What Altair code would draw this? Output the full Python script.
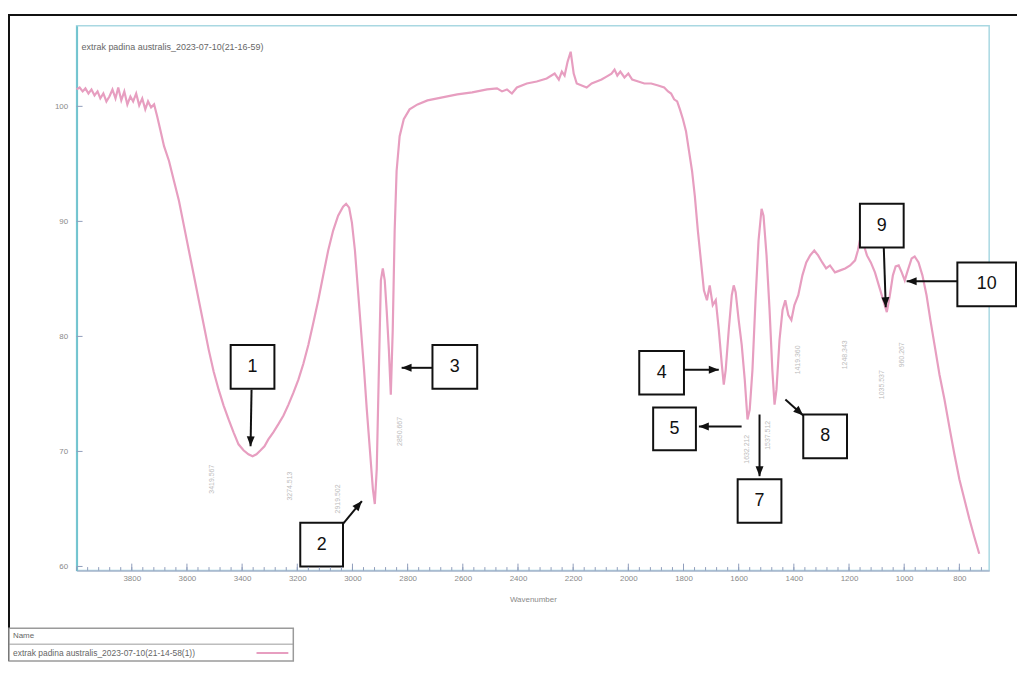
import altair as alt
import pandas as pd

# ---------------- spectrum ----------------
wavenumber = [4000, 3989, 3978, 3968, 3957, 3946, 3935, 3924, 3914, 3903, 3892, 3881, 3870, 3859, 3849,
              3838, 3827, 3816, 3805, 3795, 3784, 3773, 3762, 3751, 3741, 3730, 3719, 3708, 3697, 3683,
              3665, 3647, 3629, 3611, 3593, 3575, 3557, 3539, 3521, 3503, 3485, 3467, 3449, 3431, 3413,
              3395, 3377, 3362, 3348, 3333, 3319, 3305, 3287, 3269, 3250, 3232, 3214, 3196, 3178, 3160,
              3142, 3124, 3106, 3088, 3070, 3052, 3034, 3023, 3012, 3002, 2991, 2980, 2969, 2958, 2948,
              2937, 2926, 2919, 2912, 2905, 2897, 2890, 2883, 2876, 2868, 2861, 2854, 2847, 2840, 2829,
              2814, 2793, 2764, 2728, 2674, 2620, 2566, 2512, 2476, 2458, 2440, 2422, 2404, 2368, 2332,
              2296, 2267, 2252, 2241, 2231, 2220, 2209, 2198, 2187, 2169, 2151, 2133, 2115, 2097, 2079,
              2061, 2050, 2040, 2029, 2014, 2000, 1986, 1964, 1942, 1917, 1892, 1870, 1856, 1845, 1834,
              1823, 1813, 1802, 1791, 1780, 1769, 1759, 1748, 1737, 1726, 1715, 1705, 1694, 1683, 1672,
              1661, 1654, 1647, 1636, 1625, 1618, 1611, 1600, 1589, 1578, 1568, 1560, 1550, 1539, 1528,
              1517, 1510, 1499, 1488, 1478, 1470, 1463, 1452, 1441, 1431, 1420, 1409, 1398, 1384, 1369,
              1355, 1341, 1326, 1312, 1297, 1283, 1269, 1251, 1232, 1214, 1196, 1178, 1168, 1157, 1146,
              1135, 1121, 1106, 1092, 1078, 1063, 1052, 1041, 1031, 1020, 1009, 998, 987, 973, 962,
              948, 934, 919, 905, 890, 872, 854, 836, 818, 800, 782, 764, 746, 728]
transmittance = [101.47, 101.64, 101.30, 101.56, 101.12, 101.47, 100.95, 101.30, 100.69, 101.12, 100.43, 100.86,
                 101.47, 100.69, 101.64, 100.52, 101.30, 100.17, 100.86, 100.43, 101.12, 100.09, 100.69, 99.74,
                 100.43, 99.91, 100.17, 99.14, 98.01, 96.54, 95.25, 93.52, 91.79, 89.63, 87.47, 85.31, 83.15,
                 80.99, 78.83, 76.93, 75.37, 73.99, 72.78, 71.66, 70.62, 70.10, 69.75, 69.58, 69.75, 70.10,
                 70.45, 71.05, 71.66, 72.35, 73.12, 74.07, 75.11, 76.24, 77.62, 79.26, 81.16, 83.15, 85.31,
                 87.47, 89.20, 90.49, 91.27, 91.53, 91.19, 89.89, 87.47, 84.01, 80.56, 77.10, 73.64, 70.19,
                 66.73, 65.43, 68.46, 76.24, 84.88, 85.91, 84.88, 82.29, 78.83, 74.94, 80.56, 89.20, 94.38,
                 97.41, 98.88, 99.74, 100.17, 100.52, 100.78, 101.04, 101.21, 101.47, 101.56, 101.30, 101.47,
                 101.12, 101.64, 101.99, 102.16, 102.42, 102.85, 102.33, 103.03, 102.68, 103.89, 104.75,
                 102.85, 101.99, 101.82, 101.64, 101.99, 102.16, 102.33, 102.59, 102.85, 103.20, 102.68,
                 103.03, 102.51, 102.85, 102.33, 102.16, 101.99, 101.99, 101.82, 101.64, 101.30, 101.12,
                 100.61, 100.43, 99.74, 98.88, 97.84, 96.11, 94.38, 92.22, 89.20, 86.61, 84.01, 83.15, 84.44,
                 82.72, 83.15, 80.56, 77.53, 75.80, 77.10, 80.56, 83.58, 84.44, 83.84, 81.42, 79.26, 76.24,
                 72.78, 73.64, 77.10, 83.15, 88.33, 91.10, 90.49, 87.04, 82.29, 77.10, 74.07, 75.37, 79.69,
                 82.29, 83.15, 81.85, 81.42, 82.72, 83.58, 85.31, 86.43, 87.04, 87.47, 87.04, 86.43, 85.91,
                 86.17, 85.57, 85.74, 85.91, 86.17, 86.61, 87.47, 88.77, 87.90, 87.04, 86.43, 85.57, 84.44,
                 83.32, 82.11, 83.58, 85.31, 86.09, 86.17, 85.57, 84.88, 85.74, 86.78, 86.95, 86.43, 85.31,
                 83.58, 81.42, 79.26, 76.67, 74.51, 72.09, 69.75, 67.59, 65.87, 64.14, 62.58, 61.11]

# ---------------- axes ----------------
X_MIN, X_MAX = 692, 4000
Y_MIN, Y_MAX = 59.64, 107
x_tick_values = [3800, 3600, 3400, 3200, 3000, 2800, 2600, 2400, 2200, 2000, 1800, 1600, 1400, 1200, 1000, 800]
y_tick_values = [60, 70, 80, 90, 100]
minor_ticks = list(range(4000, 700, -40))

# ---------------- numbered boxes ----------------
box_labels = ["1", "2", "3", "4", "5", "7", "8", "9", "10"]
box_wn_left = [3441.5, 3189.2, 2710.0, 1960.4, 1910.0, 1603.7, 1365.9, 1160.5, 807.3]
box_wn_right = [3282.9, 3034.3, 2547.8, 1798.3, 1755.0, 1445.1, 1207.3, 1001.9, 594.7]
box_t_top = [79.26, 63.79, 79.26, 78.74, 73.82, 67.59, 73.21, 91.53, 86.43]
box_t_bottom = [75.46, 59.99, 75.46, 74.94, 70.10, 63.79, 69.41, 87.73, 82.63]

# ---------------- arrows ----------------
arrow_wn_from = [3365.8, 3034.3, 2710.0, 1798.3, 1589.3, 1524.4, 1430.7, 1074.0, 807.3]
arrow_t_from = [75.37, 63.71, 77.27, 77.10, 72.17, 73.21, 74.51, 87.73, 84.79]
arrow_wn_to = [3369.4, 2965.8, 2821.7, 1672.2, 1744.2, 1524.4, 1365.9, 1066.8, 991.1]
arrow_t_to = [70.45, 65.69, 77.27, 77.10, 72.17, 67.85, 73.13, 82.54, 84.79]
arrow_angle = [181, 40, 270, 90, 270, 180, 132, 178, 270]

# ---------------- faint peak labels ----------------
peak_label_text = ["3419.567", "3274.513", "2919.502", "2850.667", "1632.212", "1537.512",
                   "1419.360", "1248.343", "1035.537", "960.267"]
peak_label_wn = [3510, 3225, 3052, 2829, 1571, 1495, 1384, 1214, 1081, 1009]
peak_label_t = [67.59, 66.99, 65.87, 71.74, 70.19, 71.40, 77.96, 78.40, 75.80, 78.40]

title_text = "extrak padina australis_2023-07-10(21-16-59)"
legend_header = "Name"
legend_entry = "extrak padina australis_2023-07-10(21-14-58(1))"

PINK = "#e79ec0"
GREY = "#8a8a8a"
TICK = "#8f9dbb"
FONT = "Liberation Sans"
XT = "Wavenumber"

W, H = 918, 548
PX_PER_WN = W / (X_MAX - X_MIN)
PX_PER_T = H / (Y_MAX - Y_MIN)

spec = pd.DataFrame({"wn": wavenumber, "T": transmittance})
boxes = pd.DataFrame({"label": box_labels, "x1": box_wn_left, "x2": box_wn_right,
                      "y1": box_t_top, "y2": box_t_bottom})
boxes["xc"] = (boxes.x1 + boxes.x2) / 2
boxes["yc"] = (boxes.y1 + boxes.y2) / 2
arrows = pd.DataFrame({"x1": arrow_wn_from, "y1": arrow_t_from, "x2": arrow_wn_to,
                       "y2": arrow_t_to, "ang": arrow_angle})
peaks = pd.DataFrame({"txt": peak_label_text, "wn": peak_label_wn, "T": peak_label_t})
major_df = pd.DataFrame({"wn": x_tick_values})
major_df["t0"] = Y_MIN
major_df["t1"] = Y_MIN + 7 / PX_PER_T
minor_df = pd.DataFrame({"wn": minor_ticks})
minor_df["t0"] = Y_MIN
minor_df["t1"] = Y_MIN + 3.5 / PX_PER_T
ytick_df = pd.DataFrame({"T": y_tick_values})
ytick_df["w0"] = X_MAX
ytick_df["w1"] = X_MAX - 6 / PX_PER_WN
one = pd.DataFrame({"a": [0]})

xs = alt.Scale(domain=[X_MAX, X_MIN], nice=False, zero=False)
ys = alt.Scale(domain=[Y_MIN, Y_MAX], nice=False, zero=False)

x_axis = alt.Axis(
    values=x_tick_values, format="d", ticks=False, grid=False, labelFontSize=8,
    labelColor=GREY, labelFont=FONT, labelPadding=4, labelFlush=False,
    domainColor="#aab6cc", domainWidth=1.5, title=XT, titleFontSize=8,
    titleFontWeight="normal", titleColor=GREY, titleFont=FONT, titlePadding=13)
y_axis = alt.Axis(
    values=y_tick_values, ticks=False, grid=False, labelFontSize=8, labelColor=GREY,
    labelFont=FONT, labelPadding=9, domainColor="#72c4cf", domainWidth=2, title="")


def X(f):
    return alt.X(f, scale=xs)


def Y(f):
    return alt.Y(f, scale=ys)


curve = alt.Chart(spec).mark_line(color=PINK, strokeWidth=2.2).encode(
    x=alt.X("wn:Q", scale=xs, axis=x_axis), y=alt.Y("T:Q", scale=ys, axis=y_axis))

major_t = alt.Chart(major_df).mark_rule(color=TICK, strokeWidth=1).encode(
    x=X("wn:Q"), y=Y("t0:Q"), y2="t1:Q")
minor_t = alt.Chart(minor_df).mark_rule(color=TICK, strokeWidth=1).encode(
    x=X("wn:Q"), y=Y("t0:Q"), y2="t1:Q")
y_t = alt.Chart(ytick_df).mark_rule(color=TICK, strokeWidth=1).encode(
    y=Y("T:Q"), x=X("w0:Q"), x2="w1:Q")

peak_txt = alt.Chart(peaks).mark_text(angle=270, fontSize=7, color="#bdbdbd", font=FONT).encode(
    x=X("wn:Q"), y=Y("T:Q"), text="txt:N")

box_rect = alt.Chart(boxes).mark_rect(fill="white", stroke="#111111", strokeWidth=2).encode(
    x=X("x1:Q"), x2="x2:Q", y=Y("y1:Q"), y2="y2:Q")
box_txt = alt.Chart(boxes).mark_text(fontSize=18, font=FONT, color="#111111").encode(
    x=X("xc:Q"), y=Y("yc:Q"), text="label:N")

arrow_line = alt.Chart(arrows).mark_rule(color="#111111", strokeWidth=2).encode(
    x=X("x1:Q"), x2="x2:Q", y=Y("y1:Q"), y2="y2:Q")
arrow_head = alt.Chart(arrows).mark_point(
    shape="M0,0L-1,2.5L1,2.5Z", filled=True, size=64, color="#111111", opacity=1).encode(
    x=X("x2:Q"), y=Y("y2:Q"), angle=alt.Angle("ang:Q", scale=None))

title_mark = alt.Chart(one).mark_text(align="left", baseline="middle", fontSize=9, color="#666666",
                                      font=FONT, text=title_text).encode(
    x=alt.value(5), y=alt.value(21))

# photo frame lines
frame_top = alt.Chart(one).mark_rule(color="#111111", strokeWidth=2).encode(
    x=alt.value(-69), x2=alt.value(946), y=alt.value(-11))
frame_left = alt.Chart(one).mark_rule(color="#111111", strokeWidth=2).encode(
    x=alt.value(-68), y=alt.value(-11), y2=alt.value(639))

# legend box
leg_box = alt.Chart(one).mark_rect(fill="white", stroke="#9a9a9a", strokeWidth=1.5).encode(
    x=alt.value(-68), x2=alt.value(218), y=alt.value(606), y2=alt.value(639))
leg_div = alt.Chart(one).mark_rule(color="#9a9a9a", strokeWidth=1).encode(
    x=alt.value(-68), x2=alt.value(218), y=alt.value(622))
leg_head = alt.Chart(one).mark_text(align="left", baseline="middle", fontSize=8, color="#666666",
                                    font=FONT, text=legend_header).encode(
    x=alt.value(-64), y=alt.value(614))
leg_entry = alt.Chart(one).mark_text(align="left", baseline="middle", fontSize=8.5, color="#666666",
                                     font=FONT, text=legend_entry).encode(
    x=alt.value(-64), y=alt.value(631))
leg_line = alt.Chart(one).mark_rule(color=PINK, strokeWidth=2).encode(
    x=alt.value(181), x2=alt.value(213), y=alt.value(631))

chart = alt.layer(
    curve, peak_txt, arrow_line, arrow_head, box_rect, box_txt,
    title_mark, frame_top, frame_left, leg_box, leg_div, leg_head, leg_entry, leg_line,
    major_t, minor_t, y_t,
).properties(
    width=W, height=H,
    padding={"left": 69, "top": 16, "right": 28, "bottom": 91},
    autosize=alt.AutoSizeParams(type="none"),
).configure_view(stroke="#a9d8e2", strokeWidth=1.5)

chart.save("out.html", embed_options={"renderer": "svg", "actions": False})
